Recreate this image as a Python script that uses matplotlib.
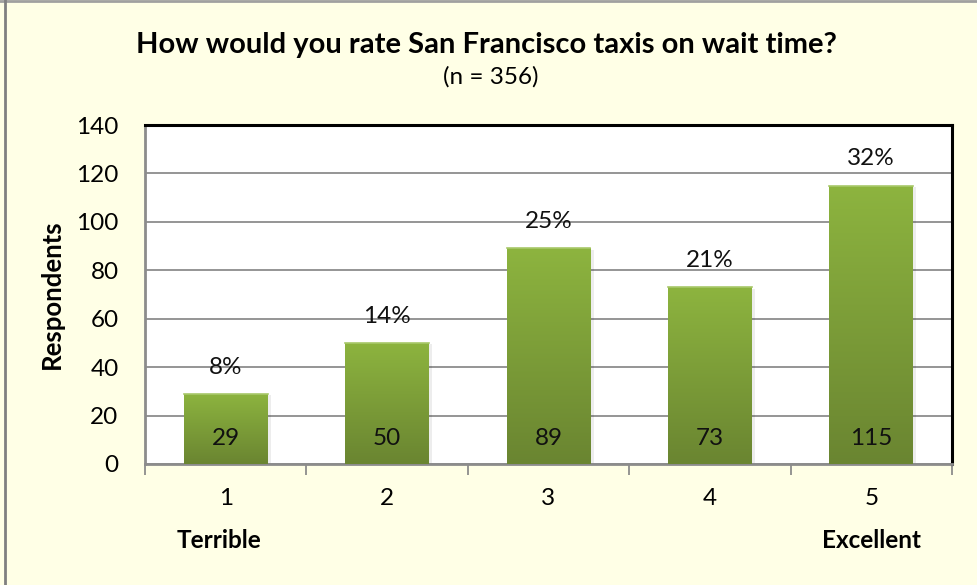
import numpy as np
import matplotlib.pyplot as plt
from matplotlib.colors import LinearSegmentedColormap
from matplotlib.lines import Line2D

categories = ["1", "2", "3", "4", "5"]
respondents = [29, 50, 89, 73, 115]
total_n = 356
end_labels = {0: "Terrible", 4: "Excellent"}
y_ticks = [0, 20, 40, 60, 80, 100, 120, 140]

plt.rcParams["font.family"] = ["Lato", "DejaVu Sans"]

bg = "#FFFFE6"
fig = plt.figure(figsize=(9.77, 5.85), dpi=100, facecolor=bg)
W, H = 977, 585
ax = fig.add_axes([145 / W, 1 - 464 / H, (952 - 145) / W, (464 - 125) / H])
ax.set_facecolor("white")

x = np.arange(len(categories))
bar_w = 0.52
bars = ax.bar(x, respondents, width=bar_w, color="none", zorder=3)

# vertical gradient fill for each bar
grad_cmap = LinearSegmentedColormap.from_list("g", ["#6A8531", "#8DB43F"])
grad = np.linspace(0, 1, 256).reshape(-1, 1)
for b in bars:
    x0, y0 = b.get_x(), b.get_y()
    w, h = b.get_width(), b.get_height()
    # soft shadow on the right side
    ax.bar(x0 + w / 2 + 0.02, h, width=w, bottom=-0.6, color="#000000",
           alpha=0.07, zorder=2, linewidth=0)
    im = ax.imshow(grad, extent=[x0, x0 + w, y0, y0 + h], aspect="auto",
                   cmap=grad_cmap, origin="lower", zorder=3)
    im.set_clip_path(b)
    ax.plot([x0, x0 + w], [y0 + h, y0 + h], color="#A8C86A", lw=1.2, zorder=4)

fs = 17.5
for i, v in enumerate(respondents):
    pct = round(100 * v / total_n)
    ax.text(i, v + 11, f"{pct}%", ha="center", va="center", fontsize=fs,
            color="#111111", zorder=5)
    ax.text(i, 10.7, f"{v}", ha="center", va="center", fontsize=fs,
            color="#111111", zorder=5)

ax.set_xlim(-0.5, len(categories) - 0.5)
ax.set_ylim(0, 140)
ax.set_yticks(y_ticks)
ax.set_yticklabels([str(t) for t in y_ticks], fontsize=fs)
ax.yaxis.grid(True, color="#8C8C8C", lw=1.3, zorder=1)
ax.set_axisbelow(True)
ax.tick_params(axis="y", length=0, pad=19)

# category boundaries as x ticks
ax.set_xticks(np.arange(len(categories) + 1) - 0.5, minor=False)
ax.set_xticklabels([])
ax.tick_params(axis="x", which="major", length=8, width=1.3, color="#8C8C8C",
               direction="out")
ax.set_xticks(x, minor=True)
ax.set_xticklabels(categories, minor=True, fontsize=fs)
ax.tick_params(axis="x", which="minor", length=0, pad=17)

for s in ["left", "bottom"]:
    ax.spines[s].set_color("#8C8C8C")
    ax.spines[s].set_linewidth(2)
for s in ["top", "right"]:
    ax.spines[s].set_color("#000000")
    ax.spines[s].set_linewidth(2.2)

ax.set_ylabel("Respondents", fontsize=18.5, fontweight="bold", labelpad=9)

label_shift = {0: -7, 4: 0}
for i, lab in end_labels.items():
    ax.annotate(lab, xy=(i, 0), xycoords="data",
                xytext=(label_shift[i] * 0.72, -55),
                textcoords="offset points", ha="center", va="center",
                fontsize=17.5, fontweight="bold", annotation_clip=False)

fig.text(486 / W, 1 - 45 / H, "How would you rate San Francisco taxis on wait time?",
         ha="center", va="center", fontsize=21, fontweight="bold")
fig.text(491 / W, 1 - 77 / H, "(n = 356)", ha="center", va="center", fontsize=17.5)

# outer frame lines along the top and left edges
fig.add_artist(Line2D([0, 1], [1 - 1 / H, 1 - 1 / H], transform=fig.transFigure,
                      color="#A0A0A0", lw=2))
fig.add_artist(Line2D([4.5 / W, 4.5 / W], [0, 1], transform=fig.transFigure,
                      color="#808080", lw=2))

fig.savefig("out.png", dpi=100, facecolor=bg)
